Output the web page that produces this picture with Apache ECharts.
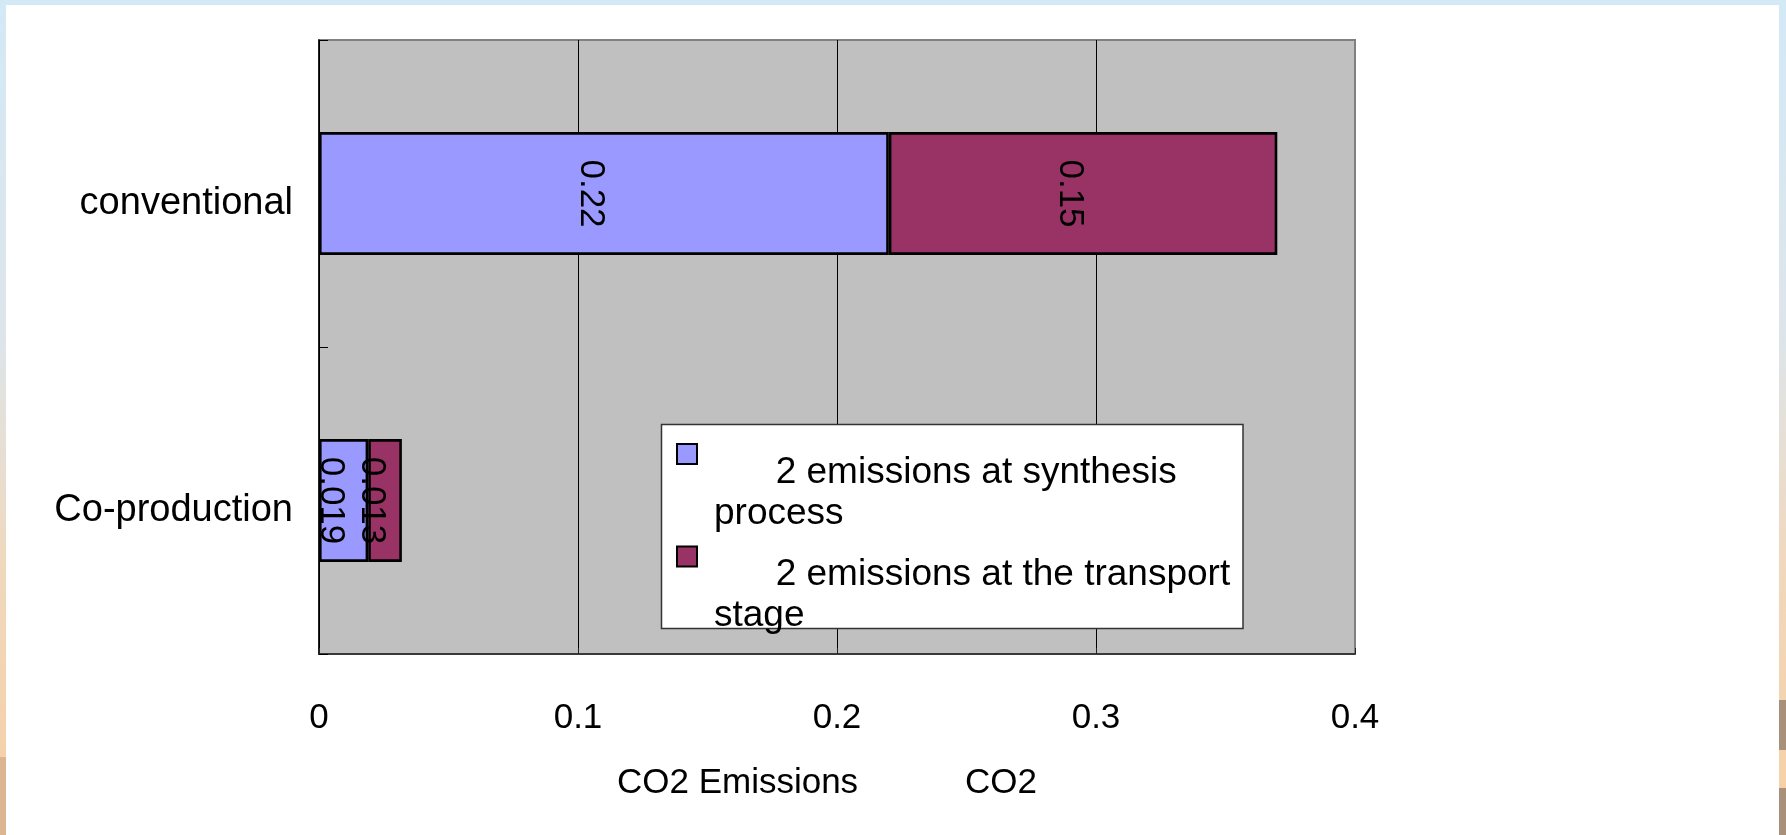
<!DOCTYPE html>
<html>
<head>
<meta charset="utf-8">
<script src="https://cdn.jsdelivr.net/npm/echarts@6/dist/echarts.min.js"></script>
<style>
  html, body { margin: 0; padding: 0; width: 1786px; height: 835px; overflow: hidden; }
  body {
    position: relative;
    background: linear-gradient(to bottom, #d3e9f6 0%, #dde5ea 40%, #f0d8bd 68%, #f7cfa3 100%);
  }
  #panel { position: absolute; left: 6px; top: 5px; width: 1773px; height: 830px; background: #fff; }
  .edge { position: absolute; }
  #chart { position: absolute; left: 0; top: 0; width: 1786px; height: 835px; }
</style>
</head>
<body>
<div id="panel"></div>
<div class="edge" style="left:0;top:757px;width:6px;height:78px;background:#dbb690"></div>
<div class="edge" style="left:1779px;top:700px;width:7px;height:50px;background:#a8917a"></div>
<div class="edge" style="left:1779px;top:788px;width:7px;height:47px;background:#a8917a"></div>
<div id="chart"></div>
<script>
// Categories, top to bottom
const categories = ['conventional', 'Co-production'];
// CO2 emissions per stage
const synthesisValues = [0.22, 0.019];
const transportValues = [0.15, 0.013];
// Value axis ticks
const xTicks = [0, 0.1, 0.2, 0.3, 0.4];
// Legend text, split over two lines each
const synthesisLines = ['2 emissions at synthesis', 'process'];
const transportLines = ['2 emissions at the transport', 'stage'];
const axisTitle = 'CO2 Emissions           CO2';

const FONT = 'Liberation Sans';
const legendLines = [synthesisLines, transportLines];
const seriesNames = legendLines.map(l => l.join(' '));
const colors = ['#9999ff', '#993366'];

const chart = echarts.init(document.getElementById('chart'), null, { renderer: 'canvas' });

const valueLabel = {
  show: true,
  position: 'inside',
  rotate: -90,
  offset: [0, 13],
  color: '#000',
  fontFamily: FONT,
  fontSize: 35
};

function makeSeries(name, values, color) {
  return {
    name: name,
    type: 'bar',
    stack: 'total',
    barCategoryGap: '60%',
    data: values,
    itemStyle: { color: color, borderColor: '#000', borderWidth: 2.6 },
    label: valueLabel
  };
}

// Each legend entry: a spacer line above, so the first text line sits just below the swatch centre
const legendTops = [408, 510.5];
const legends = seriesNames.map((name, i) => ({
  data: [name],
  orient: 'vertical',
  left: 676,
  top: legendTops[i],
  padding: 0,
  icon: 'rect',
  itemWidth: 20,
  itemHeight: 20,
  selectedMode: false,
  itemStyle: { borderColor: '#000', borderWidth: 2 },
  formatter: () => '{s| }\n{a|      ' + legendLines[i][0] + '}\n{a|' + legendLines[i][1] + '}',
  textStyle: {
    color: '#000',
    fontFamily: FONT,
    fontSize: 37,
    padding: [0, 0, 0, 12],
    rich: {
      s: { fontSize: 10, lineHeight: 78 },
      a: { color: '#000', fontFamily: FONT, fontSize: 37, lineHeight: 41 }
    }
  }
}));

chart.setOption({
  animation: false,
  backgroundColor: 'transparent',
  grid: {
    left: 319, top: 40, right: 431, bottom: 181,
    show: true,
    backgroundColor: '#c0c0c0',
    borderColor: '#808080',
    borderWidth: 2
  },
  xAxis: {
    type: 'value',
    min: xTicks[0],
    max: xTicks[xTicks.length - 1],
    interval: xTicks[1] - xTicks[0],
    axisLine: { show: true, lineStyle: { color: '#222', width: 1.5 } },
    axisTick: { show: true, inside: true, length: 6, lineStyle: { color: '#222' } },
    splitLine: { show: true, showMaxLine: false, lineStyle: { color: '#000', width: 1 } },
    axisLabel: { color: '#000', fontFamily: FONT, fontSize: 35, margin: 47 },
    name: axisTitle,
    nameLocation: 'middle',
    nameGap: 112,
    nameTextStyle: { color: '#000', fontFamily: FONT, fontSize: 35, padding: [0, 20, 0, 0] }
  },
  yAxis: {
    type: 'category',
    data: categories,
    inverse: true,
    axisLine: { show: true, lineStyle: { color: '#000', width: 1.5 } },
    axisTick: { show: true, inside: true, length: 9, lineStyle: { color: '#000' } },
    axisLabel: {
      color: '#000', fontFamily: FONT, fontSize: 38, margin: 26,
      verticalAlign: 'top', lineHeight: 20
    }
  },
  legend: legends,
  graphic: [{
    type: 'rect',
    z: 3,
    shape: { x: 661.5, y: 424.5, width: 581.5, height: 204 },
    style: { fill: '#fff', stroke: '#333', lineWidth: 1.5 }
  }],
  series: [
    makeSeries(seriesNames[0], synthesisValues, colors[0]),
    makeSeries(seriesNames[1], transportValues, colors[1])
  ]
});
</script>
</body>
</html>
